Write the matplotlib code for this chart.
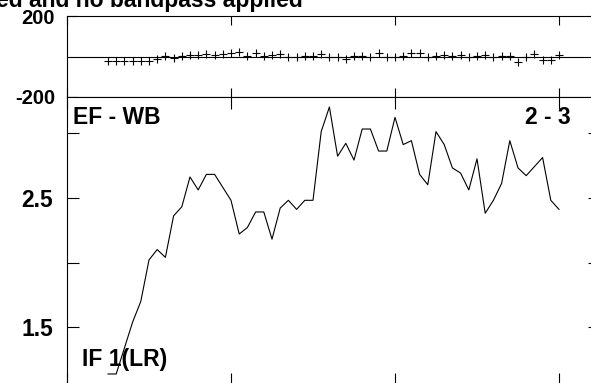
import matplotlib
matplotlib.use("Agg")
import matplotlib.pyplot as plt
import numpy as np

plt.rcParams["font.family"] = ["Liberation Sans", "DejaVu Sans"]

# lag positions shared by both panels
LAGS = np.arange(5, 61)

# upper panel: cross-correlation values (+ markers)
CC = [-23, -23, -23, -23, -23, -23, -13, 2, -8, 2,
      7, 7, 12, 7, 12, 17, 22, 2, 17, 2,
      7, 12, -3, -3, 2, 2, 12, -3, -3, -13,
      2, 2, -3, 17, -3, -3, 2, 17, 17, -3,
      2, 7, 2, 7, -3, 2, 7, -3, 2, 2,
      -28, -3, 12, -18, -18, 7]

# lower panel: IF 1 (LR) curve
IF1 = [1.14, 1.14, 1.34, 1.54, 1.70, 2.02, 2.10, 2.04, 2.36, 2.43,
       2.66, 2.56, 2.68, 2.68, 2.58, 2.48, 2.22, 2.27, 2.39, 2.39,
       2.18, 2.42, 2.48, 2.41, 2.48, 2.48, 3.01, 3.20, 2.82, 2.92,
       2.79, 3.03, 3.03, 2.86, 2.86, 3.12, 2.91, 2.94, 2.68, 2.60,
       3.01, 2.91, 2.73, 2.69, 2.56, 2.80, 2.38, 2.48, 2.61, 2.94,
       2.73, 2.67, 2.74, 2.81, 2.48, 2.41]

X_TICKS = [0, 20, 40, 60]
TOP_YTICKS = [-200, 200]
BOT_YTICKS = [1.5, 2.5]
BOT_YMINOR = [2.0, 3.0]

W, H = 591, 383
fig = plt.figure(figsize=(W / 100, H / 100), dpi=100)

ax_top = fig.add_axes([67 / W, (H - 97) / H, 533 / W, 81 / H])
ax_bot = fig.add_axes([67 / W, (H - 385) / H, 533 / W, 288 / H])

for ax in (ax_top, ax_bot):
    for sp in ax.spines.values():
        sp.set_linewidth(0.8)
    ax.set_xlim(0, 65)
    ax.set_xticks(X_TICKS)
    ax.tick_params(axis="x", labelbottom=False)

# upper panel
ax_top.axhline(0, color="black", lw=0.8)
ax_top.plot(LAGS, CC, "+", color="black", ms=6, mew=0.8)
ax_top.set_ylim(-200, 200)
ax_top.set_yticks(TOP_YTICKS)
ax_top.set_yticklabels([str(v) for v in TOP_YTICKS], fontsize=14.5, fontweight="bold")
ax_top.tick_params(axis="x", direction="in", top=True, bottom=True, length=6.5, width=0.8)
ax_top.tick_params(axis="y", direction="in", left=True, right=True, length=7, width=0.8, pad=8.5)

# lower panel
ax_bot.plot(LAGS, IF1, color="black", lw=0.8)
ax_bot.set_ylim(1.055, 3.277)
ax_bot.set_yticks(BOT_YTICKS)
ax_bot.set_yticks(BOT_YMINOR, minor=True)
ax_bot.set_yticklabels([str(v) for v in BOT_YTICKS], fontsize=16.5, fontweight="bold")
ax_bot.tick_params(axis="x", direction="in", top=True, bottom=True, length=8.6, width=0.8)
ax_bot.tick_params(axis="y", which="both", direction="in", left=True, right=True,
                   length=8.6, width=0.8, pad=10)

ax_bot.text(6 / 533, (385 - 124) / 288, "EF - WB", transform=ax_bot.transAxes,
            ha="left", va="baseline", fontsize=16.5, fontweight="bold")
ax_bot.text((571 - 67) / 533, (385 - 124) / 288, "2 - 3", transform=ax_bot.transAxes,
            ha="right", va="baseline", fontsize=16.5, fontweight="bold")
ax_bot.text((82 - 67) / 533, (385 - 366) / 288, "IF 1(LR)", transform=ax_bot.transAxes,
            ha="left", va="baseline", fontsize=16.5, fontweight="bold")

fig.text(303 / W, 1 - 7 / H, "ed and no bandpass applied", ha="right", va="baseline",
         fontsize=16.5, fontweight="bold")

fig.savefig("out.png", dpi=100)
